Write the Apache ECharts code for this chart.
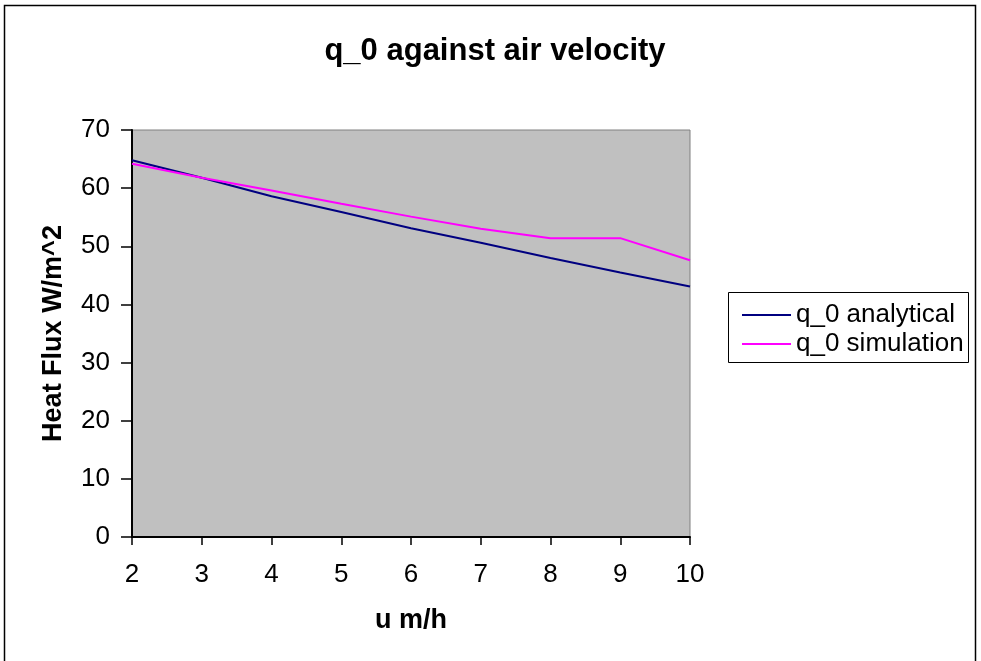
<!DOCTYPE html>
<html><head><meta charset="utf-8">
<script src="https://cdn.jsdelivr.net/npm/echarts@6/dist/echarts.min.js"></script>
<style>html,body{margin:0;padding:0;background:#fff}#c{width:981px;height:661px}</style>
</head><body><div id="c"></div>
<script>
const velocities = [2, 3, 4, 5, 6, 7, 8, 9, 10];
const analytical = [64.8, 61.8, 58.6, 55.9, 53.1, 50.6, 48.0, 45.5, 43.1];
const simulation = [64.2, 61.8, 59.6, 57.3, 55.1, 53.0, 51.4, 51.4, 47.6];
const F = 'Liberation Sans, Arial, sans-serif';
const chart = echarts.init(document.getElementById('c'));
chart.setOption({
  animation: false,
  backgroundColor: '#fff',
  title: { text: 'q_0 against air velocity', left: 490, textAlign: 'center', top: 31,
    textStyle: { fontFamily: F, fontSize: 31, fontWeight: 'bold', color: '#000' } },
  graphic: [
    { type: 'rect', shape: { x: 4.5, y: 5.5, width: 971, height: 700 }, style: { fill: 'none', stroke: '#000', lineWidth: 1.5 }, z: 0 },
    { type: 'rect', shape: { x: 728.5, y: 292.5, width: 240, height: 70 }, style: { fill: '#fff', stroke: '#000', lineWidth: 1 }, z: 1 }
  ],
  legend: { orient: 'vertical', left: 737, top: 297, itemGap: 3, itemWidth: 49, itemHeight: 2,
    icon: 'rect', textStyle: { fontFamily: F, fontSize: 26, color: '#000' },
    data: ['q_0 analytical', 'q_0 simulation'] },
  grid: { left: 132, right: 291, top: 130, bottom: 124, show: true, backgroundColor: '#c0c0c0', borderColor: '#808080', borderWidth: 1 },
  xAxis: { type: 'value', min: 2, max: 10, interval: 1, name: 'u m/h', nameLocation: 'middle', nameGap: 70,
    nameTextStyle: { fontFamily: F, fontSize: 27, fontWeight: 'bold', color: '#000' },
    axisLine: { onZero: false, lineStyle: { color: '#000', width: 2 } },
    axisTick: { show: true, length: 8, lineStyle: { color: '#000', width: 1.5 } },
    axisLabel: { fontFamily: F, fontSize: 26, color: '#000', margin: 25 },
    splitLine: { show: false } },
  yAxis: { type: 'value', min: 0, max: 70, interval: 10, name: 'Heat Flux W/m^2', nameLocation: 'middle', nameGap: 65, nameRotate: 90,
    nameTextStyle: { fontFamily: F, fontSize: 27, fontWeight: 'bold', color: '#000' },
    axisLine: { show: true, lineStyle: { color: '#000', width: 2 } },
    axisTick: { show: true, length: 11, lineStyle: { color: '#000', width: 1.5 } },
    axisLabel: { fontFamily: F, fontSize: 26, color: '#000', margin: 22 },
    splitLine: { show: false } },
  series: [
    { name: 'q_0 analytical', type: 'line', data: velocities.map((v, i) => [v, analytical[i]]), symbol: 'none',
      lineStyle: { color: '#000080', width: 2 }, itemStyle: { color: '#000080' } },
    { name: 'q_0 simulation', type: 'line', data: velocities.map((v, i) => [v, simulation[i]]), symbol: 'none',
      lineStyle: { color: '#ff00ff', width: 2 }, itemStyle: { color: '#ff00ff' } }
  ]
});
</script></body></html>
